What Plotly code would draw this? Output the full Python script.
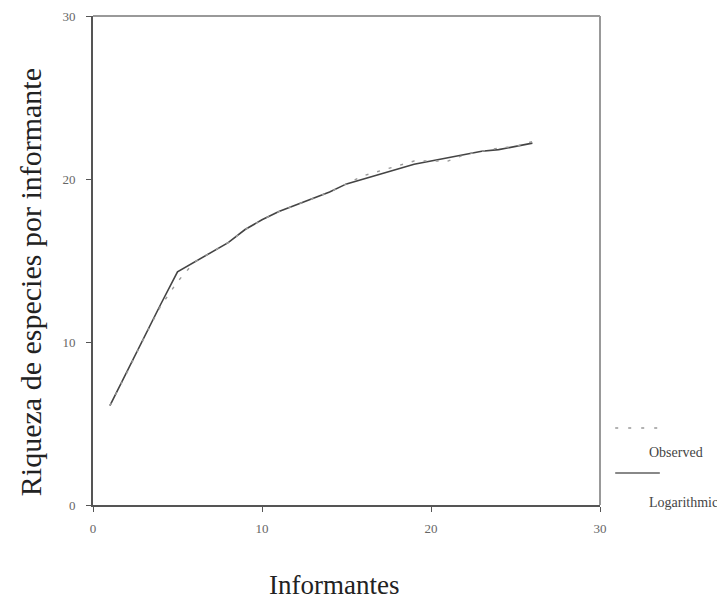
import plotly.graph_objects as go

informantes = list(range(1, 27))
observed = [6.1, 8.1, 10.2, 12.2, 13.7, 14.9, 15.5, 16.1, 16.9, 17.5,
            18.0, 18.4, 18.8, 19.2, 19.7, 20.2, 20.5, 20.8, 21.1, 21.1,
            21.1, 21.5, 21.7, 21.9, 22.0, 22.3]
logarithmic = [6.1, 8.2, 10.2, 12.3, 14.3, 14.9, 15.5, 16.1, 16.9, 17.5,
               18.0, 18.4, 18.8, 19.2, 19.7, 20.0, 20.3, 20.6, 20.9, 21.1,
               21.3, 21.5, 21.7, 21.8, 22.0, 22.2]
x_ticks = [0, 10, 20, 30]
y_ticks = [0, 10, 20, 30]

SERIF = "Liberation Serif, Times New Roman, serif"

fig = go.Figure()
fig.add_trace(go.Scatter(x=informantes, y=logarithmic, mode="lines", name="Logarithmic",
                         line=dict(color="#444444", width=1.6), showlegend=False))
fig.add_trace(go.Scatter(x=informantes, y=observed, mode="lines", name="Observed",
                         line=dict(color="#999999", width=1.4, dash="3px,9px"), showlegend=False))

axis_common = dict(showgrid=False, zeroline=False, ticks="outside", ticklen=5,
                   tickcolor="#555555", tickfont=dict(family=SERIF, size=13, color="#666666"),
                   showline=True, linewidth=2, linecolor="#555555", mirror=False,
                   automargin=False)

# page body has an 8px offset, so the figure is sized to fit the window
fig.update_layout(
    width=717, height=591,
    margin=dict(l=85, r=125, t=8, b=94),
    plot_bgcolor="white", paper_bgcolor="white",
    xaxis=dict(range=[0, 30], tickvals=x_ticks, ticklabelstandoff=5, **axis_common),
    yaxis=dict(range=[0, 30], tickvals=y_ticks, ticklabelstandoff=8, **axis_common),
    shapes=[
        dict(type="line", xref="paper", yref="paper", x0=0, x1=1, y0=1, y1=1,
             line=dict(color="#999999", width=2)),
        dict(type="line", xref="paper", yref="paper", x0=1, x1=1, y0=0, y1=1,
             line=dict(color="#999999", width=2)),
        dict(type="line", xref="paper", yref="paper", x0=1.03, x1=1.118, y0=0.1575, y1=0.1575,
             line=dict(color="#999999", width=1.5, dash="3px,10px")),
        dict(type="line", xref="paper", yref="paper", x0=1.03, x1=1.118, y0=0.0654, y1=0.0654,
             line=dict(color="#888888", width=2)),
    ],
    annotations=[
        dict(text="Observed", xref="paper", yref="paper", x=1.093, y=0.108, xanchor="left",
             yanchor="middle", showarrow=False, font=dict(family=SERIF, size=14, color="#444444")),
        dict(text="Logarithmic", xref="paper", yref="paper", x=1.093, y=0.006, xanchor="left",
             yanchor="middle", showarrow=False, font=dict(family=SERIF, size=14, color="#444444")),
        dict(text="Informantes", xref="paper", yref="paper", x=0.476, y=-0.163,
             xanchor="center", yanchor="middle", showarrow=False,
             font=dict(family=SERIF, size=27, color="#222222")),
        dict(text="Riqueza de especies por informante", xref="paper", yref="paper",
             x=-0.124, y=0.456, xanchor="center", yanchor="middle", textangle=-90,
             showarrow=False, font=dict(family=SERIF, size=30, color="#222222")),
    ],
)

fig.write_html("out.html")
